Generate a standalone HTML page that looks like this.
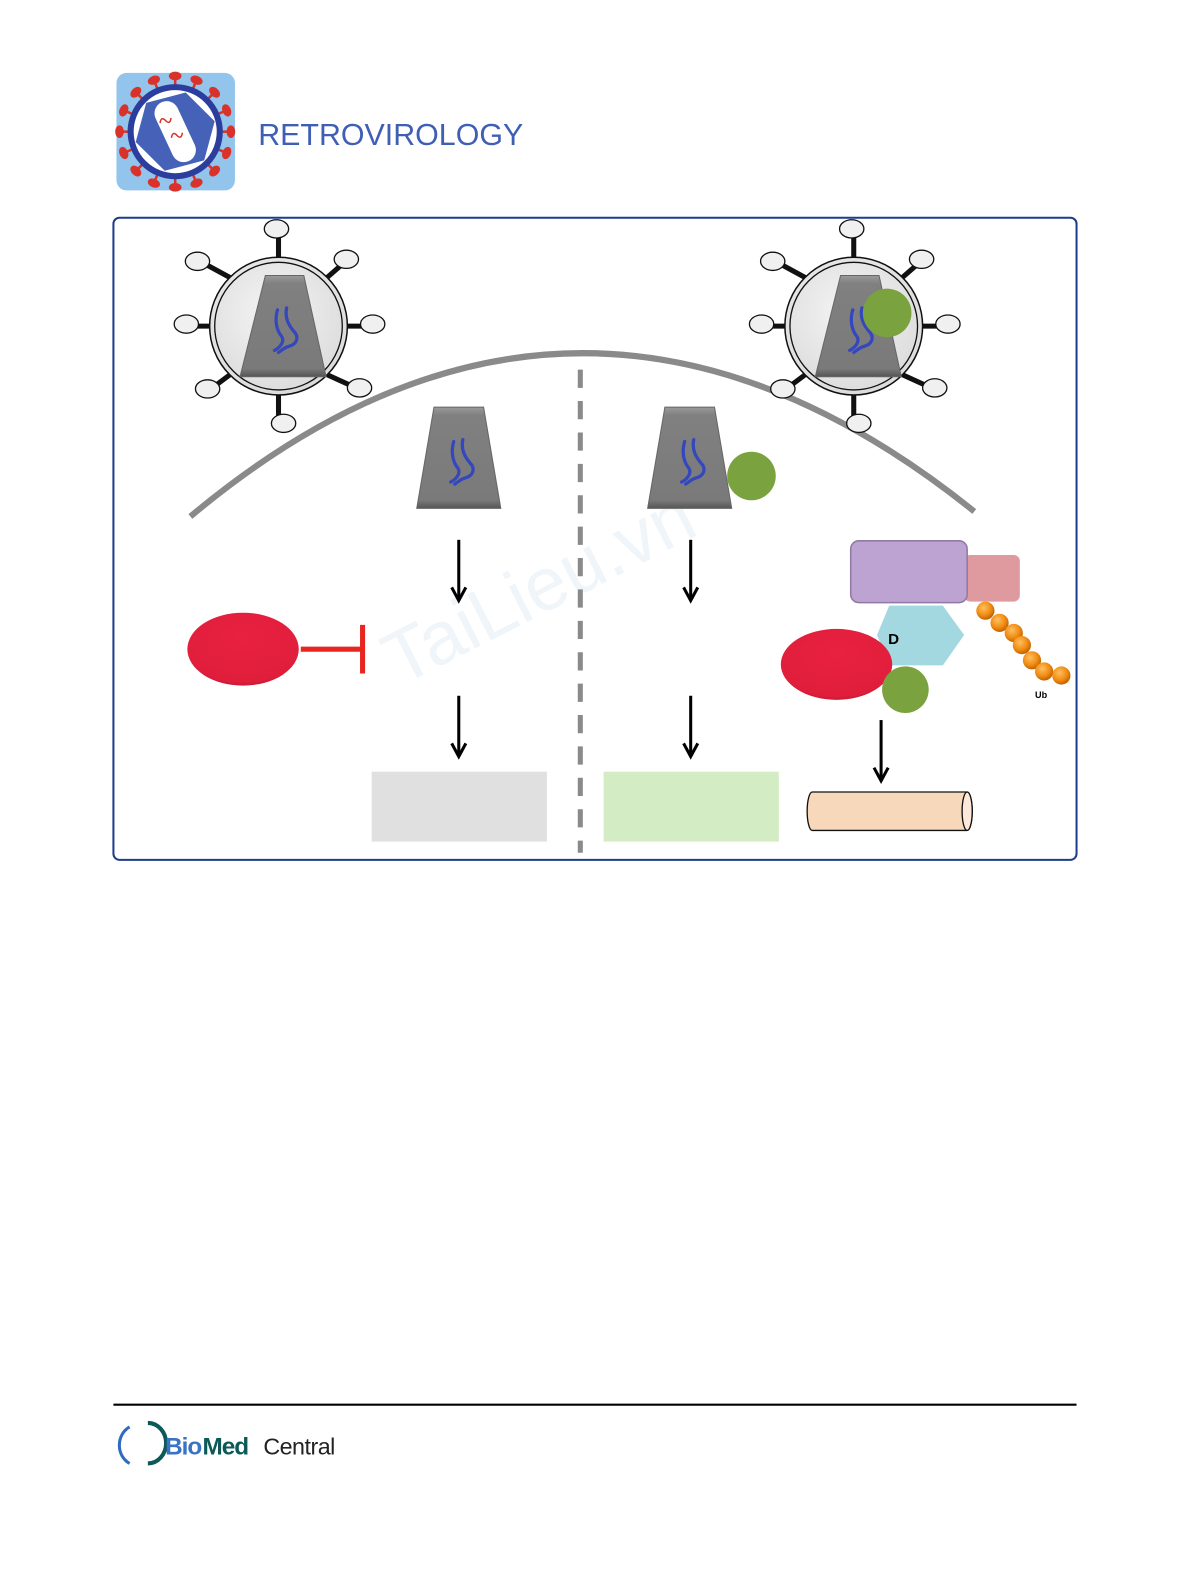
<!DOCTYPE html>
<html><head><meta charset="utf-8"><style>
html,body{margin:0;padding:0;background:#fff}
svg{display:block}
</style></head><body>
<svg width="1192" height="1588" viewBox="0 0 1177 1568" xmlns="http://www.w3.org/2000/svg">
<defs>
<linearGradient id="cap" x1="0" y1="0" x2="0" y2="1"><stop offset="0" stop-color="#9a9a9a"/><stop offset="0.08" stop-color="#808080"/><stop offset="0.92" stop-color="#7a7a7a"/><stop offset="1" stop-color="#555"/></linearGradient>
<radialGradient id="vir" cx="0.45" cy="0.4" r="0.7"><stop offset="0" stop-color="#f4f4f4"/><stop offset="1" stop-color="#d8d8d8"/></radialGradient>
<radialGradient id="red" cx="0.5" cy="0.35" r="0.7"><stop offset="0" stop-color="#e8213f"/><stop offset="0.85" stop-color="#e01e3c"/><stop offset="1" stop-color="#b5152f"/></radialGradient>
<radialGradient id="ball" cx="0.4" cy="0.35" r="0.7"><stop offset="0" stop-color="#ffc060"/><stop offset="0.6" stop-color="#f08a10"/><stop offset="1" stop-color="#b85a00"/></radialGradient>
<g id="squig" fill="none" stroke="#3447bd" stroke-width="3.2" stroke-linecap="round">
<path d="M-9,-18 C-12,-8 -10,2 -5,8 C-1,14 -8,20 -12,22"/>
<path d="M0,-20 C-2,-10 2,-3 7,3 C13,9 10,16 2,18 C-2,19 -5,22 -8,24"/>
</g>
<g id="capsid">
<polygon points="-24.5,-50 24.5,-50 41.5,50 -41.5,50" fill="url(#cap)" stroke="#666" stroke-width="1"/>
<use href="#squig" transform="translate(4,2)"/>
</g>
<g id="virion">
<g stroke="#111" stroke-width="5">
<line x1="0" y1="-68" x2="0" y2="-90"/><line x1="0" y1="68" x2="0" y2="90"/>
<line x1="-68" y1="0" x2="-88" y2="0"/><line x1="68" y1="0" x2="88" y2="0"/>
<line x1="-48" y1="-48" x2="-70" y2="-60"/><line x1="48" y1="-48" x2="64" y2="-62"/>
<line x1="-48" y1="48" x2="-64" y2="60"/><line x1="48" y1="48" x2="70" y2="58"/>
</g>
<g fill="#f0f0f0" stroke="#111" stroke-width="1.3">
<ellipse cx="-2" cy="-96" rx="12" ry="9"/><ellipse cx="5" cy="96" rx="12" ry="9"/>
<ellipse cx="-91" cy="-2" rx="12" ry="9"/><ellipse cx="93" cy="-2" rx="12" ry="9"/>
<ellipse cx="-80" cy="-64" rx="12" ry="9"/><ellipse cx="67" cy="-66" rx="12" ry="9"/>
<ellipse cx="-70" cy="62" rx="12" ry="9"/><ellipse cx="80" cy="61" rx="12" ry="9"/>
</g>
<circle r="68" fill="url(#vir)" stroke="#111" stroke-width="1.5"/>
<circle r="63" fill="none" stroke="#111" stroke-width="1.3"/>
<polygon points="-13,-50 25,-50 47,50 -38,50" fill="url(#cap)" stroke="#666" stroke-width="1"/>
<use href="#squig" transform="translate(8,2)"/>
</g>
</defs>

<!-- header logo -->
<rect x="115" y="72" width="117" height="116" rx="10" fill="#92c4ec"/>
<g transform="translate(173,130)">
<g stroke="#d9322b" stroke-width="2.5" fill="#d9322b">
<g id="sp"><line x1="0" y1="-44" x2="0" y2="-54"/><ellipse cx="0" cy="-55" rx="5" ry="3"/></g>
<use href="#sp" transform="rotate(22.5)"/><use href="#sp" transform="rotate(45)"/><use href="#sp" transform="rotate(67.5)"/>
<use href="#sp" transform="rotate(90)"/><use href="#sp" transform="rotate(112.5)"/><use href="#sp" transform="rotate(135)"/>
<use href="#sp" transform="rotate(157.5)"/><use href="#sp" transform="rotate(180)"/><use href="#sp" transform="rotate(202.5)"/>
<use href="#sp" transform="rotate(225)"/><use href="#sp" transform="rotate(247.5)"/><use href="#sp" transform="rotate(270)"/>
<use href="#sp" transform="rotate(292.5)"/><use href="#sp" transform="rotate(315)"/><use href="#sp" transform="rotate(337.5)"/>
</g>
<circle r="44" fill="#fff" stroke="#2b3e9e" stroke-width="6"/>
<polygon points="0,-40 35,-20 35,20 0,40 -35,20 -35,-20" fill="#4561b8" transform="rotate(15)"/>
<rect x="-12" y="-32" width="24" height="64" rx="12" fill="#fff" transform="rotate(-25)"/>
<path d="M-10,-14 q4,-6 6,0 q2,6 6,0 M-6,4 q4,-6 6,0 q2,6 6,0" fill="none" stroke="#d9322b" stroke-width="1.5" transform="rotate(-25)"/>
</g>
<text x="255" y="143" font-family="Liberation Sans, sans-serif" font-size="30" fill="#3f5fb5">RETROVIROLOGY</text>

<!-- frame -->
<rect x="112" y="215" width="951" height="634" rx="6" fill="#fff" stroke="#1e3c8c" stroke-width="2"/>

<!-- watermark -->
<text x="395" y="678" font-family="Liberation Sans, sans-serif" font-size="74" fill="#f0f5fa" transform="rotate(-27 395 678)">TaiLieu.vn</text>

<!-- cell membrane -->
<path d="M188,510 Q570,190 962,505" fill="none" stroke="#8a8a8a" stroke-width="6"/>
<line x1="573" y1="365" x2="573" y2="842" stroke="#8a8a8a" stroke-width="5" stroke-dasharray="18,13"/>

<!-- virions -->
<use href="#virion" transform="translate(275,322)"/>
<use href="#virion" transform="translate(843,322)"/>
<circle cx="876" cy="309" r="24" fill="#7aa23e"/>

<!-- capsids -->
<use href="#capsid" transform="translate(453,452)"/>
<use href="#capsid" transform="translate(681,452)"/>
<circle cx="742" cy="470" r="24" fill="#7aa23e"/>

<!-- arrows -->
<g stroke="#000" stroke-width="3" fill="none">
<line x1="453" y1="533" x2="453" y2="592"/><path d="M446,580 L453,593 L460,580"/>
<line x1="453" y1="687" x2="453" y2="746"/><path d="M446,734 L453,747 L460,734"/>
<line x1="682" y1="533" x2="682" y2="592"/><path d="M675,580 L682,593 L689,580"/>
<line x1="682" y1="687" x2="682" y2="746"/><path d="M675,734 L682,747 L689,734"/>
<line x1="870" y1="711" x2="870" y2="770"/><path d="M863,758 L870,771 L877,758"/>
</g>

<!-- left red + inhibition -->
<ellipse cx="240" cy="641" rx="55" ry="36" fill="url(#red)"/>
<line x1="297" y1="641" x2="357" y2="641" stroke="#e8261f" stroke-width="5"/>
<line x1="358" y1="617" x2="358" y2="665" stroke="#e8261f" stroke-width="5"/>

<!-- boxes -->
<rect x="367" y="762" width="173" height="69" fill="#e0e0e0"/>
<rect x="596" y="762" width="173" height="69" fill="#d3ecc4"/>

<!-- right complex -->
<rect x="952" y="548" width="55" height="46" rx="6" fill="#de9a9f"/>
<rect x="840" y="534" width="115" height="61" rx="8" fill="#bda3d2" stroke="#8f7aa5" stroke-width="1.5"/>
<polygon points="878,598 931,598 952,627 931,657 878,657 866,627" fill="#a4d8e0"/>
<text x="877" y="636" font-family="Liberation Sans, sans-serif" font-size="15" font-weight="bold" fill="#000">D</text>
<ellipse cx="826" cy="656" rx="55" ry="35" fill="url(#red)"/>
<circle cx="894" cy="681" r="23" fill="#7aa23e"/>
<g fill="url(#ball)">
<circle cx="973" cy="603" r="9"/><circle cx="987" cy="615" r="9"/><circle cx="1001" cy="625" r="9"/>
<circle cx="1009" cy="637" r="9"/><circle cx="1019" cy="652" r="9"/><circle cx="1031" cy="663" r="9"/><circle cx="1048" cy="667" r="9"/>
</g>
<text x="1022" y="689" font-family="Liberation Sans, sans-serif" font-size="9" font-weight="bold" fill="#000">Ub</text>

<!-- cylinder -->
<path d="M802,782 L955,782 A5,19 0 0 1 955,820 L802,820 A5,19 0 0 1 802,782 Z" fill="#f8d8bb" stroke="#111" stroke-width="1.3"/>
<ellipse cx="955" cy="801" rx="5" ry="19" fill="#fde9da" stroke="#111" stroke-width="1.3"/>

<!-- footer -->
<line x1="112" y1="1387" x2="1063" y2="1387" stroke="#000" stroke-width="2"/>
<path d="M128,1409 A18,20 0 0 0 128,1445" fill="none" stroke="#2f6bbf" stroke-width="3"/>
<path d="M146,1405 A18,20 0 0 1 146,1445" fill="none" stroke="#0b5a58" stroke-width="4"/>
<text x="163" y="1436" font-family="Liberation Sans, sans-serif" font-size="24" font-weight="bold" fill="#3a72c4" letter-spacing="-1">Bio</text>
<text x="200" y="1436" font-family="Liberation Sans, sans-serif" font-size="24" font-weight="bold" fill="#0b5a58" letter-spacing="-1">Med</text>
<text x="260" y="1436" font-family="Liberation Sans, sans-serif" font-size="23" fill="#222" letter-spacing="-0.5">Central</text>
</svg>
</body></html>
